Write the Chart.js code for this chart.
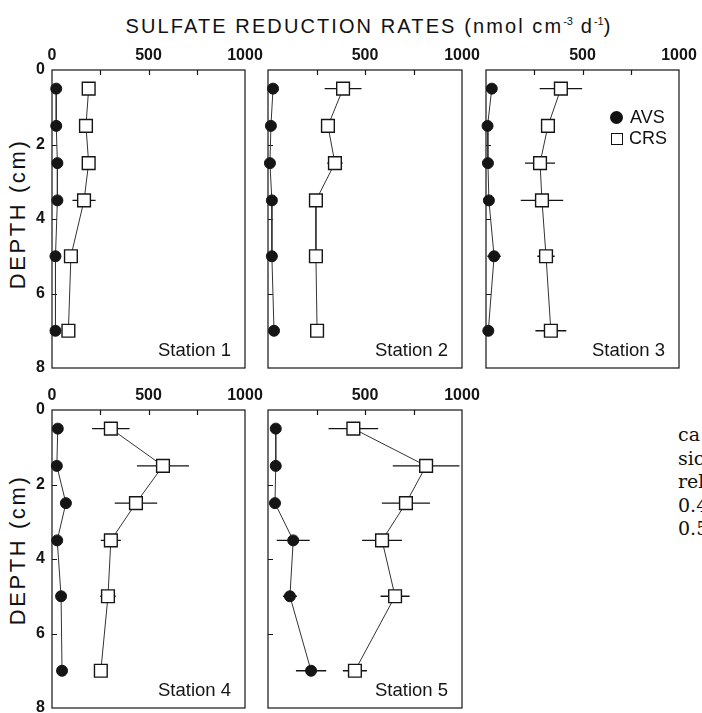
<!DOCTYPE html>
<html lang="en">
<head>
<meta charset="UTF-8">
<title>Sulfate reduction rates</title>
<script src="https://cdn.jsdelivr.net/npm/chart.js"></script>
<style>
  body {
    margin: 0;
    width: 702px;
    height: 713px;
    overflow: hidden;
    position: relative;
    background: #fff;
    color: #111;
    font-family: Arial, "Liberation Sans", sans-serif;
  }
  canvas { position: absolute; }
  #title {
    position: absolute;
    left: 369px;
    top: 15px;
    transform: translateX(-50%);
    white-space: nowrap;
    font-size: 20px;
    letter-spacing: 2.1px;
  }
  #title sup { font-size: 11px; letter-spacing: 0; }
  .ytitle {
    position: absolute;
    width: 200px;
    left: -82px;
    text-align: center;
    font-size: 22px;
    letter-spacing: 2.6px;
    transform: rotate(-90deg);
    white-space: nowrap;
  }
  #legend {
    position: absolute;
    left: 610px;
    top: 107px;
    font-size: 18px;
    line-height: 21px;
  }
  .dot, .box {
    display: inline-block;
    box-sizing: border-box;
    margin-right: 7px;
  }
  .dot { background: #111; border-radius: 50%; width: 13px; height: 13px; vertical-align: -1px; }
  .box { border: 1.6px solid #111; width: 12px; height: 12px; vertical-align: -1px; margin-left: 1px; margin-right: 6px; }
  #sidetext {
    position: absolute;
    left: 678px;
    top: 423px;
    font-family: "DejaVu Serif", serif;
    font-size: 19px;
    line-height: 23.5px;
    white-space: nowrap;
  }
</style>
</head>
<body>
<div id="title">SULFATE REDUCTION RATES (nmol cm<sup>-3</sup> d<sup>-1</sup>)</div>
<div class="ytitle" style="top:201px">DEPTH (cm)</div>
<div class="ytitle" style="top:537px">DEPTH (cm)</div>

<canvas id="s1"></canvas>
<canvas id="s2"></canvas>
<canvas id="s3"></canvas>
<canvas id="s4"></canvas>
<canvas id="s5"></canvas>

<div id="legend">
  <div><span class="dot"></span>AVS</div>
  <div><span class="box"></span>CRS</div>
</div>

<div id="sidetext">ca<br>sic<br>rel<br>0.4<br>0.5</div>

<script>
// depth of each sample (cm)
const depths = [0.5, 1.5, 2.5, 3.5, 5, 7];

// sulfate reduction rates, nmol cm-3 d-1 (AVS = acid volatile sulfide, CRS = chromium reducible sulfur)
const avs1 = [22, 22, 28, 28, 18, 18];
const avs1Err = [0, 0, 0, 0, 0, 0];
const crs1 = [190, 176, 190, 166, 98, 85];
const crs1Err = [30, 10, 10, 60, 10, 10];

const avs2 = [26, 15, 10, 20, 20, 31];
const avs2Err = [0, 0, 0, 0, 0, 0];
const crs2 = [387, 309, 345, 247, 247, 253];
const crs2Err = [95, 30, 40, 15, 10, 10];

const avs3 = [30, 8, 10, 15, 42, 12];
const avs3Err = [0, 0, 0, 0, 35, 0];
const crs3 = [388, 321, 280, 290, 311, 336];
const crs3Err = [110, 15, 78, 110, 45, 80];

const avs4 = [30, 25, 72, 27, 47, 52];
const avs4Err = [0, 0, 0, 0, 0, 0];
const crs4 = [305, 575, 435, 305, 290, 253];
const crs4Err = [97, 135, 110, 52, 40, 30];

const avs5 = [40, 40, 36, 130, 113, 222];
const avs5Err = [0, 0, 0, 85, 36, 78];
const crs5 = [440, 815, 711, 588, 655, 448];
const crs5Err = [128, 172, 124, 103, 75, 62];

// rate tick labels: left column shows 0, the others start at 500
const rateTicksLeft = [0, 500, 1000];
const rateTicksInner = [500, 1000];
const depthTicks = [0, 2, 4, 6, 8];

const ink = '#151515';
const tickFont = { family: 'Arial, "Liberation Sans", sans-serif', size: 16, weight: 'bold' };

// frame, inward ticks, error bars and station label
const framePlugin = {
    id: 'frame',
    beforeDatasetsDraw(chart, args, opts) {
        const { ctx, chartArea: a, scales: { x, y } } = chart;
        ctx.save();
        ctx.strokeStyle = ink;
        ctx.lineWidth = 1.2;
        ctx.strokeRect(a.left, a.top, a.right - a.left, a.bottom - a.top);

        ctx.beginPath();
        [250, 500, 750].forEach(v => {
            const px = Math.round(x.getPixelForValue(v)) + 0.5;
            ctx.moveTo(px, a.top);
            ctx.lineTo(px, a.top + 5);
        });
        [2, 4, 6].forEach(v => {
            const py = Math.round(y.getPixelForValue(v)) + 0.5;
            ctx.moveTo(a.left, py);
            ctx.lineTo(a.left + 5, py);
        });
        ctx.stroke();

        ctx.lineWidth = 1.3;
        ctx.beginPath();
        chart.data.datasets.forEach(ds => {
            ds.data.forEach((p, i) => {
                const e = ds.err[i];
                if (!e) return;
                const py = y.getPixelForValue(p.y);
                ctx.moveTo(x.getPixelForValue(p.x - e), py);
                ctx.lineTo(x.getPixelForValue(p.x + e), py);
            });
        });
        ctx.stroke();

        ctx.fillStyle = ink;
        ctx.font = '18.5px Arial, "Liberation Sans", sans-serif';
        ctx.textAlign = 'right';
        ctx.textBaseline = 'middle';
        ctx.fillText(opts.station, a.right - 14, a.bottom - 17);
        ctx.restore();
    }
};

function makePanel(id, box, avs, avsErr, crs, crsErr, station, leftColumn) {
    const padL = 40, padT = 30, padR = 26, padB = 24;
    const canvas = document.getElementById(id);
    canvas.width = box.r - box.l + padL + padR;
    canvas.height = box.b - box.t + padT + padB;
    canvas.style.left = (box.l - padL) + 'px';
    canvas.style.top = (box.t - padT) + 'px';
    const rateTicks = leftColumn ? rateTicksLeft : rateTicksInner;

    new Chart(canvas, {
        type: 'line',
        data: {
            datasets: [
                {
                    label: 'CRS',
                    data: depths.map((d, i) => ({ x: crs[i], y: d })),
                    err: crsErr,
                    borderColor: '#333',
                    borderWidth: 1,
                    pointStyle: 'rect',
                    pointRadius: 9,
                    pointBackgroundColor: '#fff',
                    pointBorderColor: ink,
                    pointBorderWidth: 1.4,
                    clip: false
                },
                {
                    label: 'AVS',
                    data: depths.map((d, i) => ({ x: avs[i], y: d })),
                    err: avsErr,
                    borderColor: '#333',
                    borderWidth: 1,
                    pointStyle: 'circle',
                    pointRadius: 5.5,
                    pointBackgroundColor: ink,
                    pointBorderColor: ink,
                    pointBorderWidth: 1,
                    clip: false
                }
            ]
        },
        options: {
            responsive: false,
            animation: false,
            layout: { padding: { left: 0, top: 0, right: padR, bottom: padB } },
            plugins: {
                legend: { display: false },
                tooltip: { enabled: false },
                frame: { station: station }
            },
            scales: {
                x: {
                    type: 'linear',
                    position: 'top',
                    min: 0,
                    max: 1000,
                    afterBuildTicks: s => { s.ticks = rateTicks.map(v => ({ value: v })); },
                    ticks: { padding: 5, color: ink, font: tickFont, maxRotation: 0, autoSkip: false, callback: v => String(v) },
                    grid: { display: false, drawTicks: false },
                    border: { display: false },
                    afterFit: s => { s.height = padT; }
                },
                y: {
                    type: 'linear',
                    reverse: true,
                    min: 0,
                    max: 8,
                    afterBuildTicks: s => { s.ticks = depthTicks.map(v => ({ value: v })); },
                    ticks: { display: leftColumn, padding: 7, color: ink, font: tickFont, autoSkip: false, callback: v => String(v) },
                    grid: { display: false, drawTicks: false },
                    border: { display: false },
                    afterFit: s => { s.width = padL; }
                }
            }
        },
        plugins: [framePlugin]
    });
}

makePanel('s1', { l: 52, t: 70, r: 245, b: 368 }, avs1, avs1Err, crs1, crs1Err, 'Station 1', true);
makePanel('s2', { l: 268, t: 70, r: 462, b: 368 }, avs2, avs2Err, crs2, crs2Err, 'Station 2', false);
makePanel('s3', { l: 486, t: 70, r: 679, b: 368 }, avs3, avs3Err, crs3, crs3Err, 'Station 3', false);
makePanel('s4', { l: 52, t: 410, r: 245, b: 708 }, avs4, avs4Err, crs4, crs4Err, 'Station 4', true);
makePanel('s5', { l: 268, t: 410, r: 462, b: 708 }, avs5, avs5Err, crs5, crs5Err, 'Station 5', false);
</script>
</body>
</html>
